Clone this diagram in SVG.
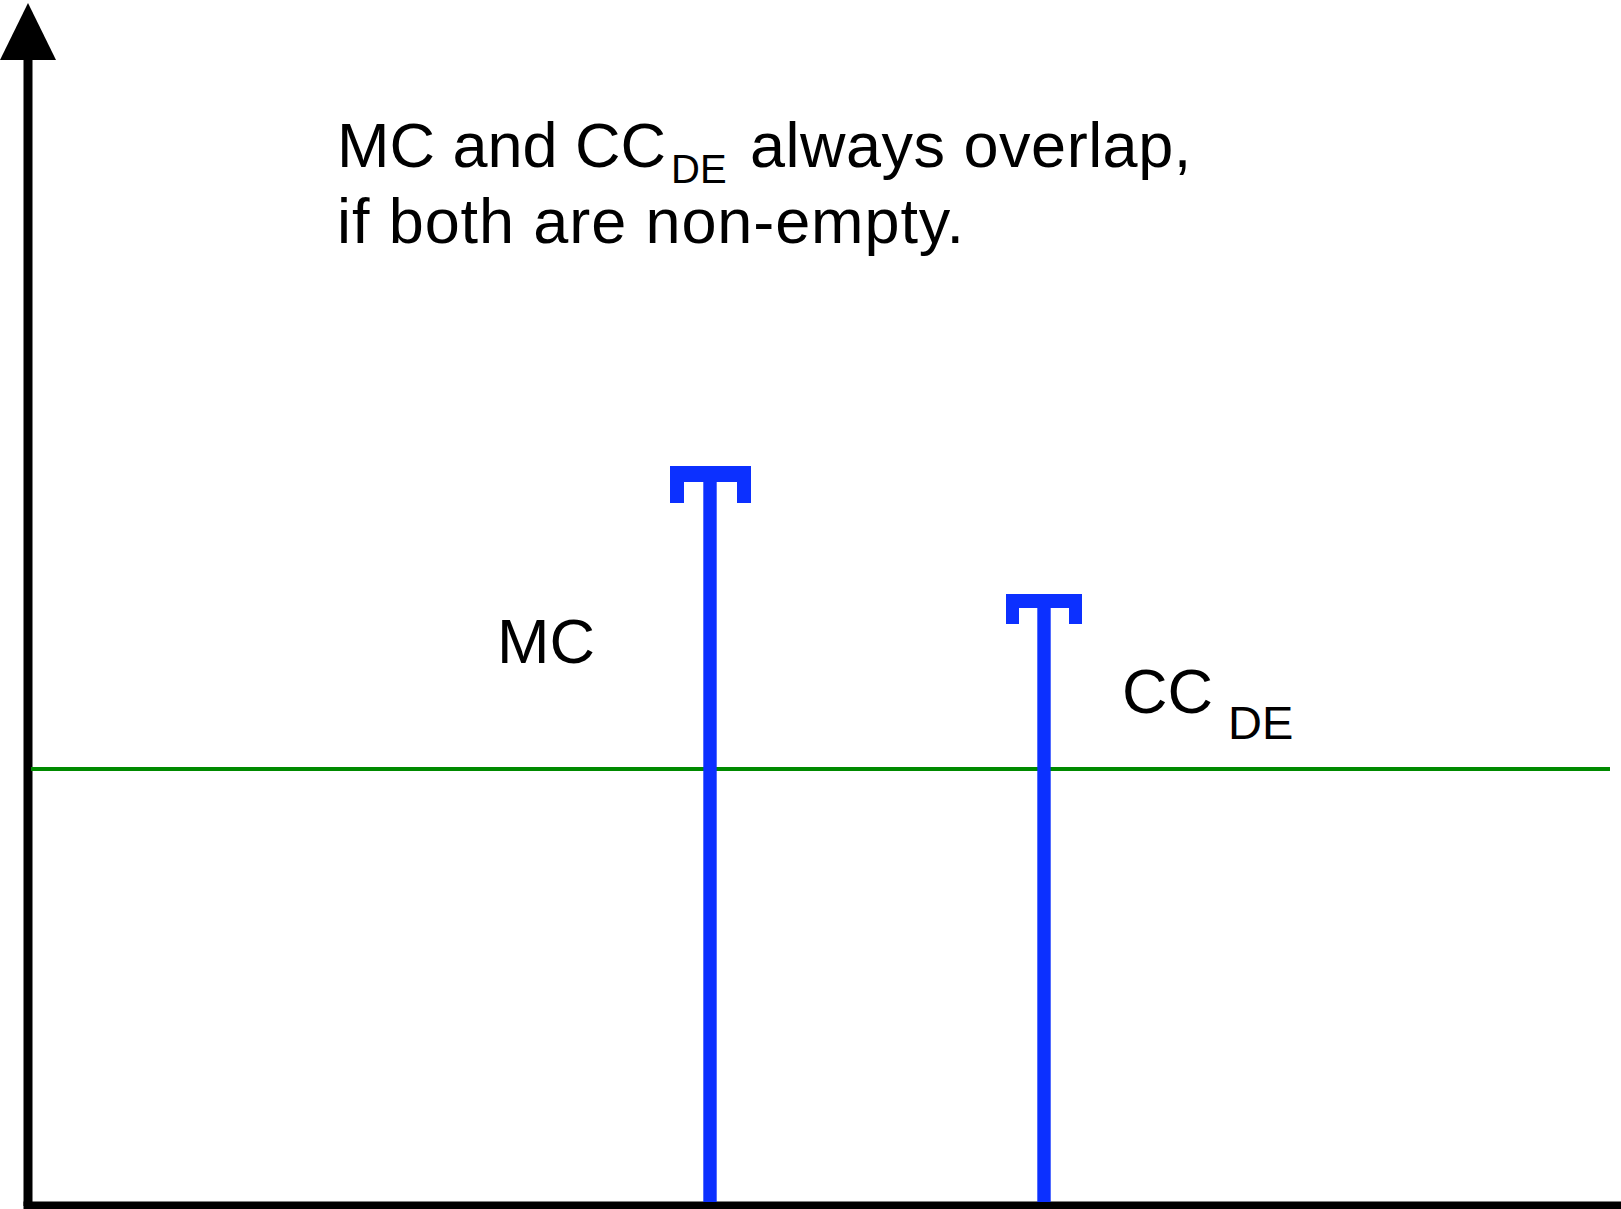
<svg xmlns="http://www.w3.org/2000/svg" width="1621" height="1209" viewBox="0 0 1621 1209">
<style>
.t{font-family:"Liberation Sans",Arial,sans-serif;font-size:63px;fill:#000}
.s{font-size:40px}
.blue{fill:#0c30ff}
</style>
<rect width="1621" height="1209" fill="#fff"/>
<g id="axes">
<line x1="28" y1="58" x2="28" y2="1206" stroke="#000" stroke-width="9"/>
<line x1="23.5" y1="1206" x2="1621" y2="1206" stroke="#000" stroke-width="9"/>
<polygon points="28,3 0,60 56,60" fill="#000"/>
</g>
<g id="threshold">
<line x1="31" y1="769" x2="1610" y2="769" stroke="#008a00" stroke-width="4"/>
</g>
<g id="mc-bar" class="blue">
<rect x="703.3" y="466" width="13.4" height="736"/>
<rect x="670" y="466" width="81" height="16"/>
<rect x="670" y="466" width="14" height="37"/>
<rect x="737" y="466" width="14" height="37"/>
</g>
<g id="cc-bar" class="blue">
<rect x="1037.3" y="594" width="13.4" height="608"/>
<rect x="1006" y="594" width="76" height="14"/>
<rect x="1006" y="594" width="13" height="30"/>
<rect x="1069" y="594" width="13" height="30"/>
</g>
<g id="caption">
<text class="t" x="337" y="166.7">MC and CC<tspan class="s" x="671" y="183">DE</tspan><tspan x="750" y="166.7" style="letter-spacing:0.5px">always overlap,</tspan><tspan x="337" y="243.3" style="letter-spacing:0.9px">if both are non-empty.</tspan></text>
</g>
<g id="mc-label">
<text class="t" x="497" y="663.3">MC</text>
</g>
<g id="cc-label">
<text class="t" x="1122" y="713.3">CC<tspan x="1228" y="739.3" style="font-size:47px">DE</tspan></text>
</g>
</svg>
